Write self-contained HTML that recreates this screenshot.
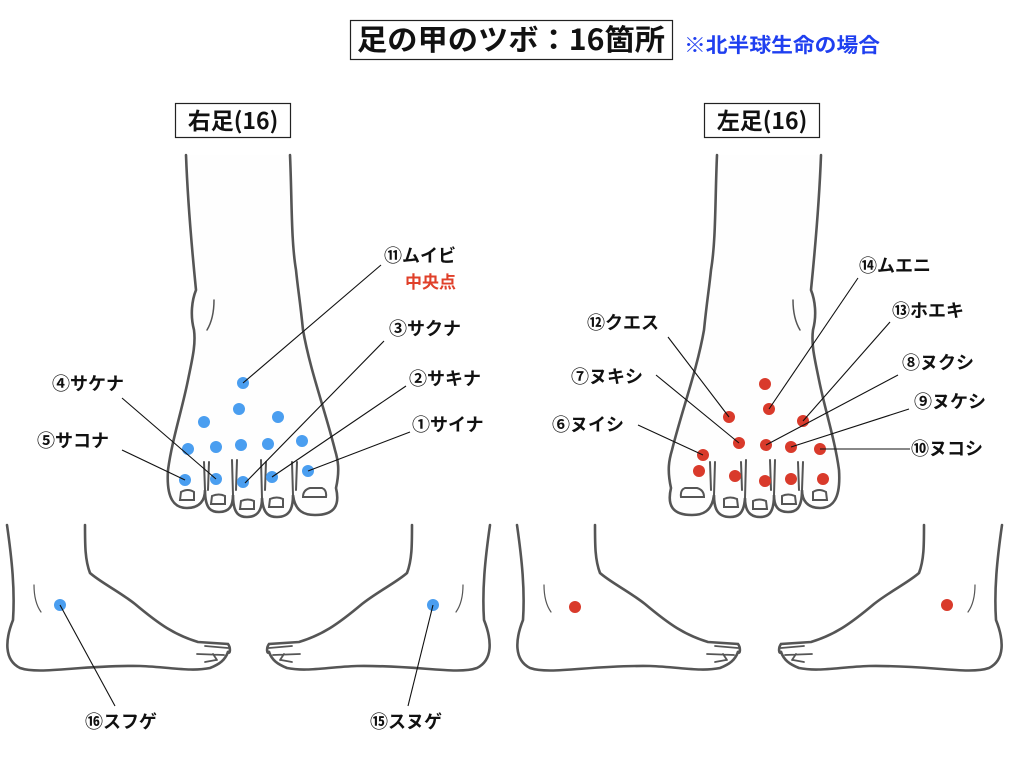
<!DOCTYPE html>
<html><head><meta charset="utf-8"><style>
html,body{margin:0;padding:0;background:#fff;width:1024px;height:768px;overflow:hidden}
svg text{font-family:"Noto Sans CJK JP","Liberation Sans",sans-serif;font-weight:bold}
</style></head><body>
<svg width="1024" height="768" viewBox="0 0 1024 768" xmlns="http://www.w3.org/2000/svg">
<defs>
<g id="top" fill="none" stroke="#555" stroke-width="2.6" stroke-linecap="round">
  <path d="M186,155 C188,210 193,260 196,290 C192,300 190,315 194,330 C196,345 192,360 188,380 C182,410 172,440 168,470 C166,500 175,508 187,508 C200,508 205,500 205,490 C205,510 212,512 219,512 C230,512 233,505 233,495 C233,515 240,517 247,517 C258,517 262,510 262,498 C263,515 270,517 277,517 C290,517 293,508 293,495 C295,512 305,515 315,515 C335,515 340,505 336,488 C340,470 338,460 335,450 C325,410 310,370 303,330 C300,300 298,290 296,270 C291,240 292,200 290,155" fill="#fefefe"/>
  <path d="M205,490 L204,462 M208,490 L209,462 M233,495 L232,460 M236,490 L237,460 M262,498 L261,460 M265,490 L266,462 M293,495 L292,462 M296,490 L297,462" stroke-width="2"/>
  <path d="M180,500 L181,492 Q188,488 194,492 L194,500 Z M211,504 L212,496 Q219,493 225,496 L225,504 Z M240,509 L241,501 Q248,498 254,501 L254,509 Z M269,507 L270,499 Q277,496 283,499 L283,507 Z M303,497 Q303,490 310,488 L322,488 Q327,490 326,497 Z" stroke-width="2"/>
  <path d="M214,300 C214,315 210,325 207,330" stroke-width="1.5"/>
</g>
<g id="side" fill="none" stroke="#555" stroke-width="2.6" stroke-linecap="round">
  <path d="M7,525 C12,560 15,590 13,620 C5,640 4,660 20,668 C40,675 80,665 140,666 C170,667 190,672 210,668 C220,664 225,660 228,652"/>
  <path d="M85,525 C85,545 85,560 90,573 C100,582 120,592 135,604 C160,625 175,635 198,642 L228,644 C231,648 230,655 228,652"/>
  <path d="M205,646 L228,648 M197,654 L224,655 M205,662 L216,660 M213,654 L217,660" stroke-width="1.8"/>
  <path d="M34,585 C34,595 36,605 41,612" stroke-width="1.2"/>
</g>
</defs>

<rect x="350.5" y="20.5" width="322" height="39" fill="#fff" stroke="#222" stroke-width="1.2"/>
<text x="511" y="50" font-size="29" text-anchor="middle" fill="#111" textLength="308" lengthAdjust="spacingAndGlyphs">足の甲のツボ：16箇所</text>
<text x="684" y="52" font-size="20" fill="#1f3ff0" textLength="196" lengthAdjust="spacingAndGlyphs">※北半球生命の場合</text>

<rect x="175.5" y="103.5" width="115" height="34" fill="#fff" stroke="#222" stroke-width="1.2"/>
<text x="233" y="129" font-size="23" text-anchor="middle" fill="#111">右足(16)</text>
<rect x="704.5" y="103.5" width="115" height="34" fill="#fff" stroke="#222" stroke-width="1.2"/>
<text x="762" y="129" font-size="23" text-anchor="middle" fill="#111">左足(16)</text>

<use href="#top"/>
<use href="#top" transform="translate(1007,0) scale(-1,1)"/>
<use href="#side"/>
<use href="#side" transform="translate(497,0) scale(-1,1)"/>
<use href="#side" transform="translate(510,0)"/>
<use href="#side" transform="translate(1009,0) scale(-1,1)"/>

<g fill="#4a9ef0">
<circle cx="243" cy="383" r="6"/><circle cx="239" cy="409" r="6"/><circle cx="204" cy="422" r="6"/><circle cx="278" cy="417" r="6"/>
<circle cx="188" cy="449" r="6"/><circle cx="216" cy="447" r="6"/><circle cx="241" cy="445" r="6"/><circle cx="268" cy="444" r="6"/><circle cx="302" cy="441" r="6"/>
<circle cx="185" cy="480" r="6"/><circle cx="216" cy="479" r="6"/><circle cx="243" cy="482" r="6"/><circle cx="272" cy="477" r="6"/><circle cx="308" cy="471" r="6"/>
<circle cx="60" cy="605" r="6"/><circle cx="433" cy="605" r="6"/>
</g>
<g fill="#d93a2b">
<circle cx="765" cy="384" r="6"/><circle cx="769" cy="409" r="6"/><circle cx="729" cy="417" r="6"/><circle cx="803" cy="421" r="6"/>
<circle cx="739" cy="443" r="6"/><circle cx="766" cy="445" r="6"/><circle cx="791" cy="447" r="6"/><circle cx="820" cy="449" r="6"/>
<circle cx="703" cy="455" r="6"/><circle cx="699" cy="471" r="6"/><circle cx="735" cy="476" r="6"/><circle cx="765" cy="481" r="6"/><circle cx="791" cy="479" r="6"/><circle cx="823" cy="479" r="6"/>
<circle cx="575" cy="607" r="6"/><circle cx="947" cy="605" r="6"/>
</g>

<g stroke="#111" stroke-width="1.1" fill="none">
<path d="M381,265 L243,383"/><path d="M384,341 L245,483"/><path d="M406,386 L272,477"/><path d="M410,432 L308,471"/>
<path d="M122,398 L216,479"/><path d="M122,450 L185,480"/>
<path d="M60,605 L115,706"/><path d="M433,605 L408,706"/>
<path d="M668,337 L729,417"/><path d="M656,375 L739,443"/><path d="M638,425 L703,455"/>
<path d="M858,278 L769,409"/><path d="M890,322 L803,421"/><path d="M898,375 L766,445"/><path d="M909,409 L791,447"/><path d="M910,449 L820,449"/>
</g>

<g font-size="18" fill="#111">
<text x="384" y="262">⑪ムイビ</text>
<text x="389" y="335">③サクナ</text>
<text x="409" y="385">②サキナ</text>
<text x="412" y="431">①サイナ</text>
<text x="52" y="390">④サケナ</text>
<text x="37" y="447">⑤サコナ</text>
<text x="85" y="728">⑯スフゲ</text>
<text x="370" y="728">⑮スヌゲ</text>
<text x="859" y="272">⑭ムエニ</text>
<text x="587" y="329">⑫クエス</text>
<text x="892" y="317">⑬ホエキ</text>
<text x="571" y="383">⑦ヌキシ</text>
<text x="902" y="369">⑧ヌクシ</text>
<text x="914" y="408">⑨ヌケシ</text>
<text x="552" y="431">⑥ヌイシ</text>
<text x="911" y="455">⑩ヌコシ</text>
</g>
<text x="405" y="288" font-size="17" fill="#e0402a">中央点</text>
</svg>
</body></html>
